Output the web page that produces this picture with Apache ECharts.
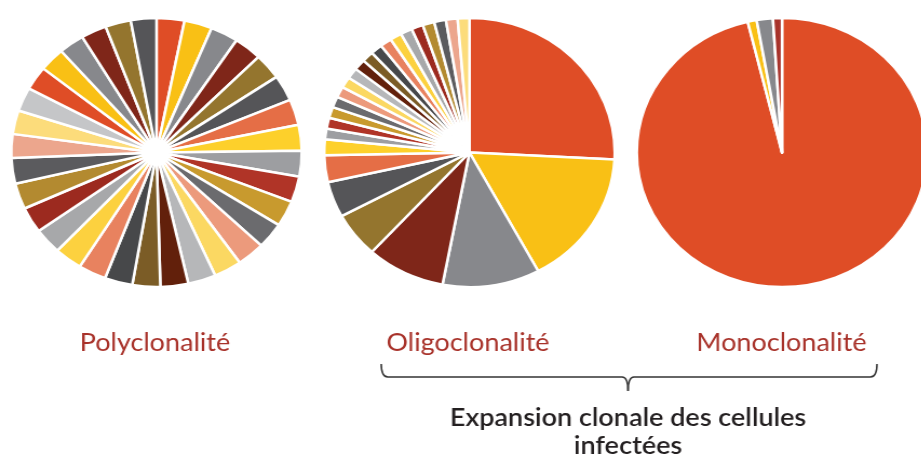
<!DOCTYPE html>
<html>
<head>
<meta charset="utf-8">
<script src="https://cdn.jsdelivr.net/npm/echarts@6/dist/echarts.min.js"></script>
<style>
  html, body { margin: 0; padding: 0; background: #fff; overflow: hidden; }
  #wrap { width: 921px; height: 458px; overflow: hidden; }
  /* the original figure is stretched horizontally, so the pies are ellipses */
  #chart { width: 853px; height: 458px; transform: scaleX(1.08); transform-origin: 0 0; }
</style>
</head>
<body>
<div id="wrap"><div id="chart"></div></div>
<script>
const titles = ['Polyclonalité', 'Oligoclonalité', 'Monoclonalité'];
const caption = 'Expansion clonale des cellules\ninfectées';

// share of each clone (%), read clockwise from 12 o'clock
const polyValues = [
  3.1, 3.1, 3.1, 3.1, 3.1, 3.1, 3.1, 3.1,
  3.1, 3.1, 3.1, 3.1, 3.1, 3.1, 3.1, 3.1,
  3.1, 3.1, 3.1, 3.1, 3.1, 3.1, 3.1, 3.1,
  2.85, 2.85, 2.85, 2.85, 2.85, 2.85, 2.85, 2.85, 2.85,
];
const oligoValues = [
  25.8, 16.3, 10.8, 8.75, 5.4, 4.3, 3.2, 1.9,
  1.3, 1.3, 1.3, 1.3, 1.3, 1.3, 1.3, 1.3, 1.3,
  1.3, 1.3, 1.3, 1.3, 1.3, 1.3, 1.3, 1.3, 1.3,
];
const monoValues = [96.2, 1.0, 1.8, 1.0];

const palette = [
  '#df4d26', '#f9c015', '#87888c', '#7f2619', '#94752e', '#555558',
  '#e56e46', '#fdd02b', '#9d9ea1', '#b03427', '#c89a2e', '#6b6b6e',
  '#ec9a7c', '#fbd862', '#b6b7b9', '#62200b', '#7b5c26', '#47484a',
  '#e8825f', '#fcd13f', '#a7a8aa', '#9c2a1f', '#b38a30', '#5b5b5e',
  '#eca68d', '#fcdc7b', '#c5c6c8',
];
const polyColors = palette.concat(palette.slice(0, 6));
const oligoColors = palette.slice(0, 26);
const monoColors = ['#df4d26', '#f9c015', '#87888c', '#a8322a'];

const chart = echarts.init(document.getElementById('chart'));

const makePie = (values, colors, cx, inner) => ({
  type: 'pie',
  center: [cx, 152.5],
  radius: [inner, 134.5],
  startAngle: 90,
  clockwise: true,
  silent: true,
  label: { show: false },
  labelLine: { show: false },
  itemStyle: { borderColor: '#fff', borderWidth: 2.5 },
  data: values.map((v, i) => ({ value: v, itemStyle: { color: colors[i] } })),
});

const titleStyle = {
  fill: '#a8322a',
  font: '25px Lato',
  textAlign: 'center',
  textVerticalAlign: 'middle',
};

// curly bracket under the two right pies
const braceStyle = { stroke: '#333', lineWidth: 1.5, fill: null };
const brace = [
  { x1: 353, y1: 364, x2: 359, y2: 377, cpx1: 353, cpy1: 377 },
  { x1: 576, y1: 377, x2: 581.5, y2: 391, cpx1: 581.5, cpy1: 377 },
  { x1: 587, y1: 377, x2: 581.5, y2: 391, cpx1: 581.5, cpy1: 377 },
  { x1: 806, y1: 377, x2: 812, y2: 364, cpx1: 812, cpy1: 377 },
].map((shape) => ({ type: 'bezierCurve', shape, style: braceStyle }));

let option = {
  animation: false,
  series: [
    makePie(polyValues, polyColors, 144.9, 6),
    makePie(oligoValues, oligoColors, 434.7, 0),
    makePie(monoValues, monoColors, 724.1, 0),
  ],
  graphic: [
    { type: 'text', x: 143.5, y: 343, style: Object.assign({ text: titles[0] }, titleStyle) },
    { type: 'text', x: 433.3, y: 343, style: Object.assign({ text: titles[1] }, titleStyle) },
    { type: 'text', x: 723.6, y: 343, style: Object.assign({ text: titles[2] }, titleStyle) },
    { type: 'line', shape: { x1: 359, y1: 377, x2: 576, y2: 377 }, style: braceStyle },
    { type: 'line', shape: { x1: 587, y1: 377, x2: 806, y2: 377 }, style: braceStyle },
    ...brace,
    {
      type: 'text',
      x: 581.5,
      y: 432,
      style: {
        text: caption,
        fill: '#231f20',
        font: '600 25px Lato',
        lineHeight: 28,
        textAlign: 'center',
        textVerticalAlign: 'middle',
      },
    },
  ],
};

option && chart.setOption(option);
</script>
</body>
</html>
